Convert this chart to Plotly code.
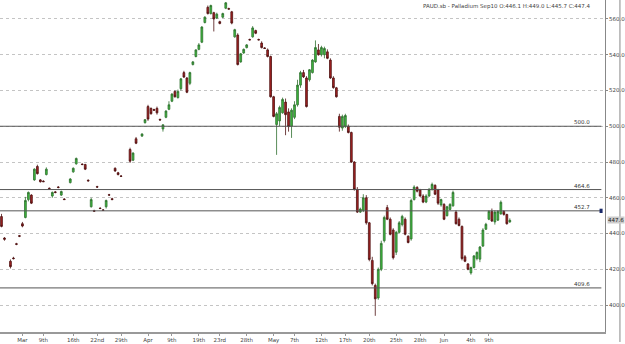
import plotly.graph_objects as go

# ---- data ----
bars = [0, 1, 3, 4, 5, 6, 7, 8, 9, 10, 11, 12, 13, 14, 15, 16, 17, 18, 19, 20, 21, 23, 24, 25, 27, 28, 29, 30,
        31, 32, 33, 34, 35, 36, 37, 38, 39, 40, 43, 44, 45, 47, 48, 49, 50, 51, 52, 53, 54, 55, 56, 57, 58, 59,
        60, 61, 62, 63, 64, 65, 66, 67, 68, 69, 70, 71, 72, 73, 74, 75, 76, 77, 78, 79, 80, 81, 82, 83, 84, 85,
        86, 87, 88, 89, 90, 91, 92, 93, 94, 95, 96, 97, 98, 99, 100, 101, 102, 103, 104, 105, 106, 107, 108,
        109, 110, 111, 112, 113, 114, 115, 116, 117, 118, 119, 120, 121, 122, 123, 124, 125, 126, 127, 128,
        129, 130, 131, 132, 133, 134, 135, 136, 137, 138, 139, 140, 141, 142, 143, 144, 145, 146, 147, 148,
        149, 150, 151, 152, 153, 154, 155, 156, 157, 158, 159, 160, 161, 162, 163, 164, 165, 166, 167, 168,
        169, 170]

opens = [449.5, 437.5, 424.5, 426.3, 434.3, 438.8, 445.5, 449, 459, 461.5, 470, 477.5, 470, 469.3, 473, 465.3,
         461, 463.3, 466, 461.5, 459.3, 468.5, 474.5, 479, 478.8, 478.6, 469.8, 455, 452.8, 466.2, 454.2, 453.2,
         455, 461.7, 459.5, 476.5, 474, 472.2, 487, 481, 493, 494.5, 502, 511, 510, 509.3, 510, 503.8, 498.5,
         505, 509.5, 514, 519.5, 516, 521, 530, 527, 524, 534.5, 539, 543, 547, 558, 566.5, 563, 563.5, 560.5,
         558.5, 561, 566, 565.8, 564, 550, 551, 536, 541, 544, 548.5, 550, 553.5, 548.5, 546.5, 543.8, 542.7,
         539, 516.5, 501, 503, 507.5, 513.5, 508, 500, 505, 512, 523, 530, 527, 526, 530, 536, 542.7, 540, 540,
         541.6, 537, 527, 521.5, 505.5, 499, 500, 500, 496.5, 480, 464.7, 452, 453, 460, 446, 425, 411, 404, 420,
         436, 454.5, 448, 442, 429.6, 440.7, 445, 448, 438.5, 437, 459, 465.8, 464.5, 461, 457.6, 461, 464.7,
         467, 464.5, 456, 456.3, 450, 453.5, 455.5, 452, 448, 444, 427, 423, 418, 421, 426, 425.7, 433, 442.4,
         448, 452.4, 446.5, 447.5, 451, 452.4, 450.7, 446.5]

highs = [451, 438, 425.5, 427, 434.8, 439.2, 446.5, 460.5, 463.5, 462, 476.5, 478.5, 470.5, 469.8, 477, 465.8,
         463.5, 463.8, 466.5, 464, 459.8, 471, 477, 482.5, 479.3, 479, 470.3, 460, 453.3, 466.7, 454.7, 453.7,
         459, 462.2, 460, 477, 474.5, 472.7, 488, 485.5, 494, 496, 504, 512, 510.5, 509.8, 511, 504.3, 501,
         509, 514, 518.5, 520, 520.5, 527, 531, 527.5, 530.5, 536.5, 543, 546.5, 556, 561.5, 567.5, 568, 564,
         563.5, 559, 563.5, 569.5, 566.3, 564.5, 554.5, 552, 541, 543.5, 546, 549, 556, 554, 549, 547.5, 544.3,
         543.5, 539.5, 517, 508, 511.5, 516, 515.5, 510, 510, 514, 526, 531, 531.5, 528, 532, 537.5, 548, 546,
         545, 544.5, 543, 538, 528, 522, 507, 506.5, 507, 501, 497, 480.5, 466, 454.5, 462, 461.5, 446.5, 427,
         412, 421, 436, 450, 456, 449, 443, 441.5, 447, 450.5, 449, 439, 459.5, 467, 466.5, 465, 462, 462,
         465.5, 468.5, 467.5, 465, 459.5, 457, 455.5, 457, 464, 453, 449, 444.5, 428, 423.5, 421.5, 428, 430,
         433, 443, 446, 453, 454, 453, 453, 458.5, 453, 451, 448.5]

lows = [443.5, 436, 420.5, 425.5, 433.5, 438, 443.5, 448.5, 458, 456.5, 469.5, 473, 468.5, 468.8, 472.5, 464.8,
        460, 462.5, 465.3, 461, 458.8, 468, 474, 478.5, 478.2, 475.5, 469, 454.5, 452.2, 465.5, 453.7, 452.7,
        454, 461.2, 458.7, 474.5, 472.5, 471.7, 479.5, 480.5, 490, 494, 501.5, 503, 506.5, 508.8, 506.5, 503.2,
        497, 504.5, 509, 513.5, 516, 515.5, 520, 527, 518.5, 523, 534, 538.5, 542.5, 546.5, 557.5, 562.5,
        562.5, 553, 560, 557, 560.5, 565.5, 565.2, 557, 549.5, 534, 535.5, 540.5, 543.5, 548, 549.5, 551.5,
        548, 543.5, 543.3, 538.5, 516, 505, 484, 500, 507, 495, 497, 493.5, 504, 511, 521.5, 527, 510.5, 525,
        529.5, 535.5, 539.5, 539, 538, 537.5, 526.5, 521, 516, 497, 497.5, 499, 496, 479.5, 464, 451.5, 451.5,
        452, 445, 424.5, 411, 394, 403, 419, 435, 447.5, 439, 425.5, 428, 440, 444, 439, 434.5, 436, 458.5,
        463, 460.5, 457, 457, 460.5, 464, 461.5, 456, 455, 447.5, 449.5, 453, 455, 445, 444, 425, 424, 419.5,
        417, 420.5, 425, 424, 432.5, 442, 447.5, 446.5, 445, 447, 450.5, 450, 445, 446]

closes = [444, 436.8, 421.5, 426, 434, 438.5, 444.2, 458.5, 463, 457, 476, 473.5, 469, 469, 476, 465, 463, 463,
          465.8, 463.5, 459, 470.5, 476.5, 482, 478.6, 476, 469.5, 459, 452.5, 466, 454, 453, 458.5, 461.5, 459,
          475, 473, 472, 480.5, 485, 490.5, 495.7, 503.7, 504, 507, 509, 507.5, 503.5, 500.8, 508.5, 512, 518,
          516.5, 519.5, 526.5, 527.5, 519, 530, 536, 542.7, 545.5, 555.5, 561, 563, 567.5, 560, 562.7, 557.5,
          563, 569, 565.5, 557.7, 554, 534.5, 540.5, 543, 545.5, 548.3, 555, 552, 548.3, 544, 543.5, 539, 516.5,
          505.5, 507, 510.5, 515, 506.5, 499.8, 509, 512, 523, 530, 527.6, 511, 531.6, 537, 544, 540, 544,
          543.5, 538, 527, 521.6, 516.5, 499.5, 505.5, 506, 496.5, 480, 464.7, 452, 453.7, 460, 446, 425.5, 412,
          403.5, 420, 434.5, 449, 448, 439.6, 426.5, 440.7, 446, 449.6, 439.6, 435, 458.5, 466, 463.7, 461,
          457.6, 461, 464.7, 467.5, 462, 457, 459, 448, 455, 456.3, 463, 445.5, 444.5, 426, 424.5, 420, 421,
          427.5, 429.5, 432.5, 442, 445.2, 452.4, 447, 452, 452.4, 457.5, 450.7, 445.5, 447.4]

levels = [500.0, 464.6, 452.7, 409.6]
last_price = 447.6
y_ticks = [400, 420, 440, 460, 480, 500, 520, 540, 560]
x_tick_bars = [7, 14, 24, 32, 40, 49, 57, 66, 73, 82, 91, 98, 107, 115, 123, 132, 140, 148, 157, 163]
x_tick_text = ["Mar", "9th", "16th", "22nd", "29th", "Apr", "9th", "19th", "23rd", "28th", "May",
               "7th", "12th", "17th", "20th", "25th", "28th", "Jun", "4th", "9th"]
title_text = "PAUD.sb - Palladium Sep10 O:446.1 H:449.0 L:445.7 C:447.4"

FONT = "DejaVu Sans"

fig = go.Figure()
fig.add_trace(go.Candlestick(
    x=bars, open=opens, high=highs, low=lows, close=closes,
    increasing=dict(line=dict(color="#2f6e2f", width=0.8), fillcolor="#3dbb3d"),
    decreasing=dict(line=dict(color="#4d1010", width=0.8), fillcolor="#a52222"),
    whiskerwidth=0, showlegend=False, hoverinfo="skip",
))

shapes = []
annotations = []
for lv in levels:
    shapes.append(dict(type="line", xref="paper", yref="y", x0=0, x1=0.994, y0=lv, y1=lv,
                       line=dict(color="#555555", width=1), layer="above"))
    annotations.append(dict(xref="paper", yref="y", x=0.978, y=lv, text=f"{lv:.1f}",
                            xanchor="right", yanchor="bottom", showarrow=False, yshift=-1,
                            font=dict(size=5.5, color="#333333", family=FONT)))
# small marker at the end of the 452.7 level
shapes.append(dict(type="rect", xref="paper", yref="y", x0=0.991, x1=0.996,
                   y0=levels[2] - 1.2, y1=levels[2] + 1.2,
                   fillcolor="#1a2a6a", line=dict(width=0)))
# outer right border
shapes.append(dict(type="line", xref="paper", yref="paper", x0=1.0247, x1=1.0247, y0=-0.03, y1=1,
                   line=dict(color="#888888", width=1)))

annotations.append(dict(xref="paper", yref="y", x=1.003, y=last_price, text=f"{last_price:.1f}",
                        xanchor="left", yanchor="middle", showarrow=False, bgcolor="#cccccc",
                        borderpad=0, font=dict(size=5.5, color="#222222", family=FONT)))
annotations.append(dict(xref="paper", yref="paper", x=0.98, y=0.997, text=title_text,
                        xanchor="right", yanchor="top", showarrow=False,
                        font=dict(size=5.5, color="#444444", family=FONT)))

fig.update_layout(
    width=625, height=344,
    margin=dict(l=0, r=18, t=0, b=11),
    paper_bgcolor="white", plot_bgcolor="white",
    font=dict(family=FONT, size=5.5, color="#444444"),
    boxgap=0.15,
    shapes=shapes, annotations=annotations,
    xaxis=dict(range=[-0.5, 201.83], tickvals=x_tick_bars, ticktext=x_tick_text,
               showgrid=False, zeroline=False, showline=True, linecolor="#999999", linewidth=1.5,
               ticks="outside", ticklen=2, tickcolor="#999999",
               rangeslider=dict(visible=False), tickfont=dict(size=5.5, color="#444444")),
    yaxis=dict(range=[384.95, 570.6], side="right", tickvals=y_ticks,
               ticktext=[f"{v:.1f}" for v in y_ticks],
               showgrid=True, gridcolor="#c4c4c4", griddash="dot", gridwidth=1,
               zeroline=False, showline=True, linecolor="#888888", linewidth=1,
               ticks="outside", ticklen=2, tickcolor="#888888",
               tickfont=dict(size=5.5, color="#444444")),
)

fig.write_html("out.html")
